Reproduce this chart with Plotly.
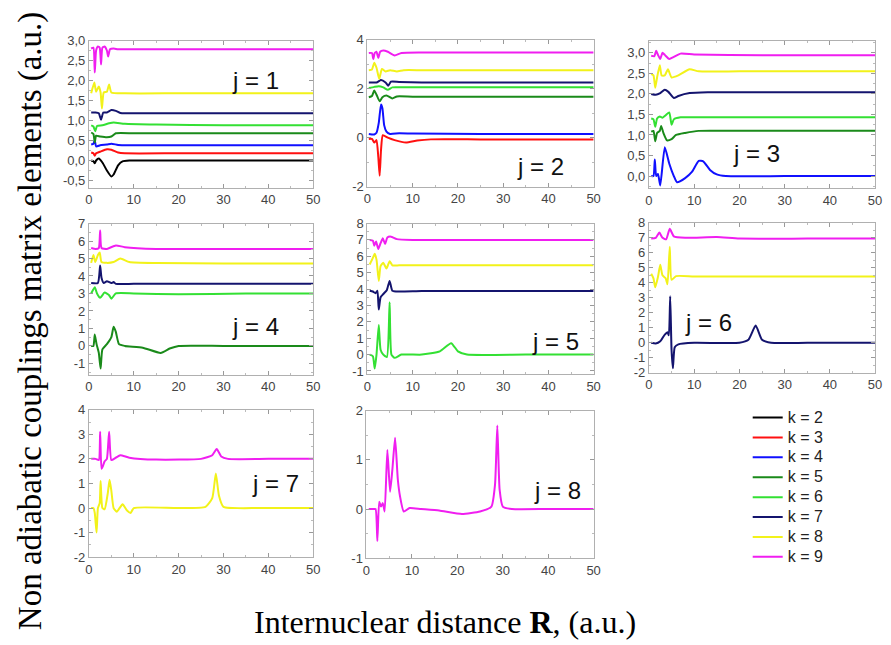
import plotly.graph_objects as go

W, H = 891, 645

# ---------------- data ----------------
K_NAMES = ["k = 2", "k = 3", "k = 4", "k = 5", "k = 6", "k = 7", "k = 8", "k = 9"]
K_COLORS = ["#000000", "#ff1010", "#1010ff", "#1a8a1a", "#33e033", "#14146e", "#f2f21a", "#f01ef0"]

# j = 1
j1_k2_R = [0.5, 1, 1.3, 1.6, 2.2, 3, 4, 5, 5.5, 6.5, 7.5, 9, 20, 50]
j1_k2_v = [0, -0.02, -0.07, 0.0, 0.05, -0.05, -0.25, -0.4, -0.35, -0.12, -0.02, 0, 0, 0]
j1_k3_R = [0.5, 1, 1.3, 1.6, 2.5, 4, 5, 6.5, 8, 20, 50]
j1_k3_v = [0.2, 0.18, 0.12, 0.18, 0.22, 0.28, 0.27, 0.2, 0.18, 0.18, 0.18]
j1_k4_R = [0.5, 1, 1.3, 1.6, 2.5, 4, 5, 6.5, 9, 20, 50]
j1_k4_v = [0.4, 0.42, 0.5, 0.35, 0.38, 0.4, 0.42, 0.39, 0.38, 0.38, 0.38]
j1_k5_R = [0.5, 1, 1.3, 1.6, 2.5, 4, 5, 6, 10, 20, 50]
j1_k5_v = [0.7, 0.66, 0.45, 0.62, 0.6, 0.58, 0.6, 0.68, 0.68, 0.68, 0.68]
j1_k6_R = [0.5, 1, 1.4, 1.8, 3, 4.5, 5.5, 8, 15, 30, 50]
j1_k6_v = [0.88, 0.85, 0.73, 0.86, 0.88, 0.93, 0.95, 0.92, 0.9, 0.88, 0.88]
j1_k7_R = [0.5, 1.5, 2.2, 2.7, 3.2, 4, 5, 6, 7, 12, 25, 50]
j1_k7_v = [1.2, 1.2, 1.18, 1.02, 1.2, 1.2, 1.26, 1.24, 1.19, 1.18, 1.18, 1.18]
j1_k8_R = [0.5, 1.2, 1.6, 2.2, 2.6, 2.9, 3.3, 4, 4.5, 5, 8, 20, 50]
j1_k8_v = [1.68, 1.95, 1.72, 1.85, 1.7, 1.3, 1.7, 1.72, 1.9, 1.7, 1.68, 1.68, 1.68]
j1_k9_R = [0.5, 1.0, 1.3, 1.6, 2.0, 2.4, 2.7, 3.0, 3.5, 4.0, 4.3, 4.7, 5.5, 6.5, 10, 25, 50]
j1_k9_v = [2.8, 2.82, 2.2, 2.75, 2.85, 2.82, 2.4, 2.82, 2.85, 2.75, 2.6, 2.78, 2.8, 2.78, 2.78, 2.78, 2.78]

# j = 2
j2_k3_R = [0.3, 1.0, 1.5, 2.0, 2.4, 2.7, 3.0, 3.4, 4.5, 6, 8.5, 11, 14, 25, 50]
j2_k3_v = [-0.05, -0.05, -0.2, -0.1, -0.8, -1.55, -0.5, 0.1, 0.0, -0.1, -0.2, -0.12, -0.07, -0.07, -0.07]
j2_k4_R = [0.3, 1.5, 2.0, 2.5, 3.0, 3.3, 3.7, 4.2, 5, 7, 10, 25, 50]
j2_k4_v = [0.15, 0.13, 0.2, 0.6, 1.35, 1.2, 0.5, 0.25, 0.15, 0.18, 0.17, 0.15, 0.15]
j2_k5_R = [0.3, 1.0, 1.5, 2.0, 2.7, 3.3, 4.2, 5.5, 6.5, 10, 25, 50]
j2_k5_v = [1.65, 1.7, 1.92, 1.75, 1.48, 1.65, 1.72, 1.6, 1.68, 1.67, 1.67, 1.67]
j2_k6_R = [0.3, 1.5, 2.5, 3.5, 4.5, 5.5, 8, 20, 50]
j2_k6_v = [2.02, 2.07, 2.1, 2.05, 1.95, 2.05, 2.05, 2.05, 2.05]
j2_k7_R = [0.3, 2, 3, 4, 4.6, 5.2, 7, 12, 25, 50]
j2_k7_v = [2.25, 2.25, 2.35, 2.25, 2.12, 2.28, 2.27, 2.25, 2.25, 2.25]
j2_k8_R = [0.3, 1, 1.5, 2, 2.6, 3.2, 4, 5, 6.5, 8, 12, 25, 50]
j2_k8_v = [2.75, 2.78, 3.05, 2.85, 2.4, 2.8, 2.7, 2.75, 2.7, 2.75, 2.75, 2.75, 2.75]
j2_k9_R = [0.3, 1, 1.3, 1.6, 2.0, 2.4, 2.8, 3.5, 4.5, 6, 7.5, 12, 25, 50]
j2_k9_v = [3.45, 3.45, 3.2, 3.45, 3.5, 3.25, 3.5, 3.55, 3.5, 3.35, 3.45, 3.47, 3.47, 3.47]

# j = 3
j3_k4_R = [0.5, 1.0, 1.3, 1.6, 2.0, 2.5, 3.5, 4.5, 5.5, 6.2, 8, 9.5, 11, 12, 13.5, 15, 17, 30, 50]
j3_k4_v = [0.0, 0.0, 0.4, 0.0, 0.05, -0.23, 0.7, 0.3, 0.0, -0.15, -0.05, 0.1, 0.37, 0.36, 0.15, 0.04, 0.0, 0.0, 0.0]
j3_k5_R = [0.5, 1.0, 1.4, 1.8, 2.4, 2.7, 3.2, 4, 5, 6, 8, 11, 20, 50]
j3_k5_v = [1.08, 1.1, 0.85, 1.05, 1.1, 1.22, 1.05, 0.87, 0.9, 1.0, 1.05, 1.1, 1.1, 1.1]
j3_k6_R = [0.5, 1.0, 1.4, 1.8, 2.4, 3.0, 3.7, 4.5, 5.0, 5.5, 7, 12, 25, 50]
j3_k6_v = [1.4, 1.38, 1.2, 1.4, 1.45, 1.42, 1.48, 1.55, 1.25, 1.38, 1.43, 1.43, 1.43, 1.43]
j3_k7_R = [0.5, 1.5, 2.5, 3.5, 4.3, 5.5, 6.5, 9, 13, 25, 50]
j3_k7_v = [2.0, 1.98, 2.02, 2.1, 2.05, 1.9, 1.95, 2.02, 2.04, 2.04, 2.04]
j3_k8_R = [0.5, 1.0, 1.4, 1.8, 2.4, 2.8, 3.5, 4.2, 5, 6.5, 9, 11, 20, 50]
j3_k8_v = [2.48, 2.45, 2.15, 2.4, 2.7, 2.45, 2.45, 2.6, 2.4, 2.45, 2.6, 2.55, 2.55, 2.55]
j3_k9_R = [0.5, 1.2, 1.6, 2.0, 2.5, 3.0, 3.5, 4.5, 5.5, 7, 10, 25, 50]
j3_k9_v = [2.93, 2.92, 3.05, 2.95, 2.85, 3.0, 2.95, 2.85, 2.9, 2.98, 2.96, 2.94, 2.94]

# j = 4
j4_k5_R = [0.5, 1.0, 1.3, 1.7, 2.2, 2.6, 3.0, 4, 5, 5.5, 6.0, 6.7, 8, 12, 16, 18, 20, 30, 50]
j4_k5_v = [0.0, 0.0, 0.65, 0.1, -0.4, -1.3, -0.2, 0.1, 0.5, 1.1, 0.8, 0.1, 0.0, -0.1, -0.4, -0.15, 0.0, 0.0, 0.0]
j4_k6_R = [0.5, 1.3, 1.8, 2.5, 3.5, 4.5, 5, 6, 10, 20, 35, 50]
j4_k6_v = [3.0, 3.35, 3.0, 2.75, 3.05, 2.9, 2.7, 3.0, 3.0, 2.95, 3.0, 3.0]
j4_k7_R = [0.5, 2, 2.5, 2.8, 3.3, 4, 5, 5.5, 6, 10, 25, 50]
j4_k7_v = [3.6, 3.6, 4.6, 3.9, 3.6, 3.7, 3.6, 3.65, 3.55, 3.55, 3.55, 3.55]
j4_k8_R = [0.5, 1.0, 1.4, 2.0, 2.4, 2.8, 4, 5.5, 7, 9, 15, 30, 50]
j4_k8_v = [4.75, 5.2, 4.8, 5.2, 5.35, 4.8, 4.75, 4.8, 5.0, 4.8, 4.74, 4.72, 4.72]
j4_k9_R = [0.5, 1.5, 2.2, 2.5, 2.8, 4, 6, 8, 15, 30, 50]
j4_k9_v = [5.6, 5.55, 5.6, 6.6, 5.6, 5.55, 5.75, 5.65, 5.55, 5.55, 5.55]

# j = 5
j5_k6_R = [0.5, 1.2, 1.6, 2.0, 2.5, 2.9, 3.5, 4.3, 4.9, 5.3, 6, 7.5, 12, 16, 18.5, 20, 22, 35, 50]
j5_k6_v = [0.0, -0.1, -0.85, 0.0, 1.8, 0.3, 0.0, -0.15, 3.2, 0.0, -0.2, 0.0, 0.0, 0.2, 0.7, 0.2, 0.0, 0.0, 0.0]
j5_k7_R = [0.5, 1.2, 1.8, 2.2, 2.5, 2.9, 3.5, 4.3, 4.9, 5.5, 7, 12, 25, 50]
j5_k7_v = [3.9, 3.85, 3.75, 3.9, 2.75, 3.5, 3.7, 3.95, 4.5, 3.9, 3.85, 3.88, 3.88, 3.88]
j5_k8_R = [0.5, 1.2, 1.6, 2.0, 2.5, 2.9, 3.5, 4.2, 4.9, 5.5, 7, 12, 25, 50]
j5_k8_v = [5.5, 5.9, 6.15, 5.8, 4.5, 5.4, 5.6, 5.25, 5.7, 5.45, 5.45, 5.45, 5.45, 5.45]
j5_k9_R = [0.5, 1.2, 1.5, 1.9, 2.4, 2.9, 3.4, 3.9, 4.4, 5.2, 6.5, 10, 25, 50]
j5_k9_v = [7.0, 6.95, 6.65, 6.9, 6.45, 6.8, 7.1, 6.75, 7.15, 7.2, 7.05, 7.0, 7.0, 7.0]

# j = 6
j6_k7_R = [0.5, 1.5, 2.5, 3.5, 4.1, 4.4, 4.7, 5.0, 5.3, 5.7, 6.5, 10, 20, 22, 23.6, 25, 27, 35, 50]
j6_k7_v = [0.0, -0.05, 0.1, 0.55, 0.7, 0.5, 3.1, -0.5, -1.7, -0.3, -0.1, 0.0, 0.0, 0.2, 1.15, 0.2, 0.0, 0.0, 0.0]
j6_k8_R = [0.5, 1.0, 1.4, 2.0, 2.5, 3.0, 3.7, 4.1, 4.6, 5.0, 6, 10, 25, 50]
j6_k8_v = [4.6, 4.3, 3.7, 4.4, 5.2, 4.5, 4.3, 3.9, 6.4, 4.2, 4.45, 4.43, 4.43, 4.43]
j6_k9_R = [0.5, 1.5, 2.3, 3.0, 3.8, 4.6, 5.5, 8, 15, 20, 35, 50]
j6_k9_v = [6.95, 7.0, 7.35, 7.0, 6.9, 7.6, 7.1, 7.0, 7.05, 6.95, 6.95, 6.95]

# j = 7
j7_k8_R = [0.5, 1.0, 1.3, 1.7, 2.0, 2.4, 2.6, 3.0, 3.5, 4.2, 4.6, 5.0, 5.5, 6.2, 7.5, 8.5, 9.3, 10,
           20, 26, 27.5, 28.3, 29, 30, 38, 50]
j7_k8_v = [0.0, 0.0, -0.2, -1.0, 0.0, 0.2, 1.1, 0.0, -0.05, 0.6, 1.15, 0.7, 0.0, -0.15, 0.15, -0.1, -0.2, 0.0,
           0.0, 0.05, 0.4, 1.4, 0.5, 0.05, 0.0, 0.0]
j7_k9_R = [0.5, 1.5, 2.2, 2.5, 2.8, 3.1, 3.5, 4.0, 4.5, 5.0, 6, 7, 9, 15, 25, 27.5, 28.5, 29.5, 31, 40, 50]
j7_k9_v = [2.0, 2.0, 1.95, 3.1, 1.6, 1.7, 1.9, 2.0, 3.1, 1.95, 2.05, 2.15, 2.05, 1.97, 2.0, 2.15, 2.4, 2.1, 2.0,
           2.0, 2.0]

# j = 8
j8_k9_R = [0.5, 1.5, 2.0, 2.4, 2.8, 3.2, 3.6, 4.0, 4.6, 5.2, 5.7, 6.3, 6.9, 7.4, 8.2, 9.5, 12, 16, 21, 25,
           27.5, 28.3, 28.8, 29.3, 30, 32, 40, 50]
j8_k9_v = [0.0, 0.0, 0.0, -0.65, 0.15, 0.05, 0.12, -0.05, 1.2, 0.35, 0.8, 1.45, 0.6, 0.25, -0.05, 0.02, 0.0,
           -0.03, -0.1, -0.05, 0.05, 0.5, 1.7, 0.4, 0.05, 0.0, 0.0, 0.0]

# y tick labels per panel
YT1 = [-0.5, 0, 0.5, 1.0, 1.5, 2.0, 2.5, 3.0]
YT2 = [-2, 0, 2, 4]
YT3 = [0, 0.5, 1.0, 1.5, 2.0, 2.5, 3.0]
YT4 = [-1, 0, 1, 2, 3, 4, 5, 6, 7]
YT5 = [-1, 0, 1, 2, 3, 4, 5, 6, 7, 8]
YT6 = [-2, -1, 0, 1, 2, 3, 4, 5, 6, 7, 8]
YT7 = [-2, -1, 0, 1, 2, 3, 4]
YT8 = [-1, 0, 1, 2]
XT = [0, 10, 20, 30, 40, 50]

# ---------------- layout of the panels (pixels) ----------------
panels = [
    # j, x0, x1, ytop, ybot, yrange, yticks, comma
    (1, 86, 313, 34.3, 185, [-0.68, 3.0], YT1, True),
    (2, 368, 597, 33.3, 184, [-2, 4], YT2, False),
    (3, 653, 882, 34.3, 185.7, [-0.3, 3.3], YT3, True),
    (4, 86, 313, 221.7, 376.5, [-1.65, 7], YT4, False),
    (5, 368, 597, 221.7, 376, [-1.2, 8], YT5, False),
    (6, 653, 882, 221, 374.5, [-2, 8], YT6, False),
    (7, 86, 313, 412.3, 563.3, [-2, 4], YT7, False),
    (8, 367, 597, 413.3, 564.3, [-1, 2], YT8, False),
]
jlabel_pos = {1: (255, 75), 2: (543, 163), 3: (762, 150), 4: (255, 327),
              5: (558, 342), 6: (713, 323), 7: (275, 488), 8: (560, 495)}

data = {
    1: [(2, j1_k2_R, j1_k2_v), (3, j1_k3_R, j1_k3_v), (4, j1_k4_R, j1_k4_v), (5, j1_k5_R, j1_k5_v),
        (6, j1_k6_R, j1_k6_v), (7, j1_k7_R, j1_k7_v), (8, j1_k8_R, j1_k8_v), (9, j1_k9_R, j1_k9_v)],
    2: [(3, j2_k3_R, j2_k3_v), (4, j2_k4_R, j2_k4_v), (5, j2_k5_R, j2_k5_v), (6, j2_k6_R, j2_k6_v),
        (7, j2_k7_R, j2_k7_v), (8, j2_k8_R, j2_k8_v), (9, j2_k9_R, j2_k9_v)],
    3: [(4, j3_k4_R, j3_k4_v), (5, j3_k5_R, j3_k5_v), (6, j3_k6_R, j3_k6_v), (7, j3_k7_R, j3_k7_v),
        (8, j3_k8_R, j3_k8_v), (9, j3_k9_R, j3_k9_v)],
    4: [(5, j4_k5_R, j4_k5_v), (6, j4_k6_R, j4_k6_v), (7, j4_k7_R, j4_k7_v), (8, j4_k8_R, j4_k8_v),
        (9, j4_k9_R, j4_k9_v)],
    5: [(6, j5_k6_R, j5_k6_v), (7, j5_k7_R, j5_k7_v), (8, j5_k8_R, j5_k8_v), (9, j5_k9_R, j5_k9_v)],
    6: [(7, j6_k7_R, j6_k7_v), (8, j6_k8_R, j6_k8_v), (9, j6_k9_R, j6_k9_v)],
    7: [(8, j7_k8_R, j7_k8_v), (9, j7_k9_R, j7_k9_v)],
    8: [(9, j8_k9_R, j8_k9_v)],
}

fig = go.Figure()
layout = {}
annotations = []
axis_common = dict(showline=True, linecolor="#b0b0b0", linewidth=1, mirror="ticks",
                   ticks="inside", ticklen=4, tickcolor="#999999", showgrid=False, zeroline=False,
                   tickfont=dict(family="Arial, Liberation Sans, sans-serif", size=13, color="#444444"))

for idx, (j, x0, x1, yt, yb, yr, yticks, comma) in enumerate(panels):
    n = idx + 1
    xa = "xaxis" if n == 1 else f"xaxis{n}"
    ya = "yaxis" if n == 1 else f"yaxis{n}"
    xref = "x" if n == 1 else f"x{n}"
    yref = "y" if n == 1 else f"y{n}"
    layout[xa] = dict(axis_common, domain=[x0 / W, x1 / W], range=[0, 50], anchor=yref,
                      tickvals=XT, ticktext=[str(v) for v in XT],
                      minor=dict(ticks="inside", ticklen=2, dtick=5, tickcolor="#bbbbbb"))
    if comma:
        txt = [f"{v:.1f}".replace(".", ",") for v in yticks]
    else:
        txt = [str(v) for v in yticks]
    step = yticks[1] - yticks[0]
    layout[ya] = dict(axis_common, domain=[1 - yb / H, 1 - yt / H], range=yr, anchor=xref,
                      tickvals=yticks, ticktext=txt,
                      minor=dict(ticks="inside", ticklen=2, dtick=step / 2, tickcolor="#bbbbbb"))
    for (k, R, v) in data[j]:
        nm = K_NAMES[k - 2]
        fig.add_trace(go.Scatter(x=R, y=v, mode="lines", xaxis=xref, yaxis=yref,
                                 line=dict(color=K_COLORS[k - 2], width=2, shape="spline", smoothing=0.5),
                                 name=f'<span style="font-size:16px">{nm}</span>', legendgroup=nm,
                                 showlegend=(j == 1), hoverinfo="skip"))
    px, py = jlabel_pos[j]
    annotations.append(dict(text=f"j = {j}", x=px / W, y=1 - py / H, xref="paper", yref="paper",
                            showarrow=False, xanchor="center", yanchor="middle",
                            font=dict(family="Arial, Liberation Sans, sans-serif", size=24, color="#111111")))

annotations.append(dict(text="Non adiabatic couplings matrix elements (a.u.)", x=27 / W, y=1 - 321 / H,
                        xref="paper", yref="paper", showarrow=False, textangle=-90,
                        xanchor="center", yanchor="middle",
                        font=dict(family="Liberation Serif, Times New Roman, serif", size=33, color="#000000")))
annotations.append(dict(text="Internuclear distance <b>R</b>, (a.u.)", x=447 / W, y=1 - 630 / H,
                        xref="paper", yref="paper", showarrow=False,
                        xanchor="center", yanchor="middle",
                        font=dict(family="Liberation Serif, Times New Roman, serif", size=32, color="#000000")))

fig.update_layout(
    width=W, height=H, margin=dict(l=0, r=0, t=0, b=0),
    paper_bgcolor="white", plot_bgcolor="white",
    annotations=annotations,
    legend=dict(x=753 / W, y=1 - 405 / H, xanchor="left", yanchor="top",
                font=dict(family="Arial, Liberation Sans, sans-serif", size=13, color="#222222"),
                tracegroupgap=0, bgcolor="rgba(0,0,0,0)"),
    **layout,
)

fig.write_html("out.html", config={"displayModeBar": False},
               post_script="document.body.style.margin='0';document.body.style.overflow='hidden';")
